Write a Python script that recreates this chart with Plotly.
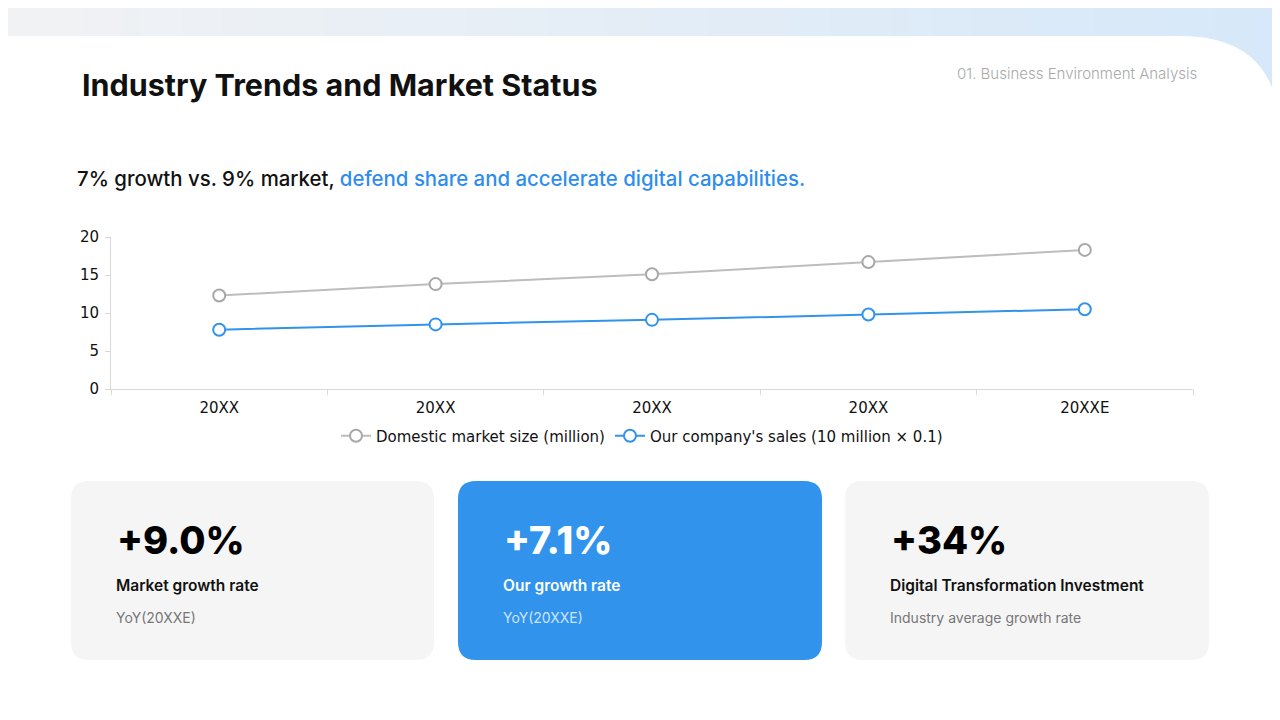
import plotly.graph_objects as go

W, H = 1280, 720
# the page body has an 8px default margin; place everything in screen pixels
OX, OY = 8, 8

years = ["20XX", "20XX ", "20XX  ", "20XX   ", "20XXE"]
year_labels = ["20XX", "20XX", "20XX", "20XX", "20XXE"]
market_size = [12.3, 13.8, 15.1, 16.7, 18.3]
our_sales = [7.8, 8.5, 9.1, 9.8, 10.5]

card_values = ["+9.0%", "+7.1%", "+34%"]
card_labels = ["Market growth rate", "Our growth rate", "Digital Transformation Investment"]
card_notes = ["YoY(20XXE)", "YoY(20XXE)", "Industry average growth rate"]

GRAY_LINE = "#bdbdbd"
GRAY_MARK = "#a8a8a8"
BLUE = "#3193ec"


def px(x):
    return (x - OX) / W


def py(y):
    return 1 - (y - OY) / H


fig = go.Figure()

fig.add_trace(go.Scatter(
    x=years, y=market_size, mode="lines+markers",
    name="Domestic market size (million)",
    line=dict(color=GRAY_LINE, width=2),
    marker=dict(symbol="circle", size=12, color="white", line=dict(color=GRAY_MARK, width=2)),
))
fig.add_trace(go.Scatter(
    x=years, y=our_sales, mode="lines+markers",
    name="Our company's sales (10 million × 0.1)",
    line=dict(color=BLUE, width=2),
    marker=dict(symbol="circle", size=12, color="white", line=dict(color=BLUE, width=2)),
))

shapes = []
# top gradient band (strips)
n = 64
c0, c1 = (241, 242, 244), (214, 232, 249)
for i in range(n):
    t = i / (n - 1)
    col = "rgb(%d,%d,%d)" % tuple(round(a + (b - a) * t) for a, b in zip(c0, c1))
    shapes.append(dict(type="rect", xref="paper", yref="paper",
                       x0=px(i * (W + 16) / n), x1=px((i + 1) * (W + 16) / n + 1), y0=py(160), y1=py(0),
                       fillcolor=col, line=dict(width=0), layer="below"))

# white panel with rounded top-right corner
r = 100
path = (f"M {px(0)},{py(36)} L {px(W - r)},{py(36)} "
        f"Q {px(W)},{py(36)} {px(W)},{py(36 + r)} "
        f"L {px(W)},{py(H + 20)} L {px(0)},{py(H + 20)} Z")
shapes.append(dict(type="path", xref="paper", yref="paper", path=path,
                   fillcolor="white", line=dict(width=0), layer="below"))


def rounded_rect(x0, y0, x1, y1, rad):
    return (f"M {px(x0 + rad)},{py(y0)} L {px(x1 - rad)},{py(y0)} "
            f"Q {px(x1)},{py(y0)} {px(x1)},{py(y0 + rad)} "
            f"L {px(x1)},{py(y1 - rad)} Q {px(x1)},{py(y1)} {px(x1 - rad)},{py(y1)} "
            f"L {px(x0 + rad)},{py(y1)} Q {px(x0)},{py(y1)} {px(x0)},{py(y1 - rad)} "
            f"L {px(x0)},{py(y0 + rad)} Q {px(x0)},{py(y0)} {px(x0 + rad)},{py(y0)} Z")


card_x = [(71, 434), (458, 822), (845, 1209)]
card_fill = ["#f5f5f5", BLUE, "#f5f5f5"]
for (x0, x1), col in zip(card_x, card_fill):
    shapes.append(dict(type="path", xref="paper", yref="paper",
                       path=rounded_rect(x0, 481, x1, 660, 18),
                       fillcolor=col, line=dict(width=0), layer="below"))

ann = []
ann.append(dict(x=px(80), y=py(85), text="Industry Trends and Market Status",
                font=dict(family="Inter", size=30.5, color="#111111", weight=700)))
ann.append(dict(x=px(1199), y=py(73), xanchor="right", text="01. Business Environment Analysis",
                font=dict(family="Inter", size=15, color="#a9a9a9", weight=300)))
ann.append(dict(x=px(75), y=py(178),
                text="7% growth vs. 9% market, <span style='color:#2f8ded'>defend share and accelerate digital capabilities.</span>",
                font=dict(family="Inter", size=20.4, color="#111111", weight=500)))

for i, (x0, x1) in enumerate(card_x):
    blue = card_fill[i] == BLUE
    ann.append(dict(x=px(x0 + 44), y=py(540), text=card_values[i],
                    font=dict(family="Inter", size=38, color="white" if blue else "#000000", weight=800)))
    ann.append(dict(x=px(x0 + 43), y=py(585), text=card_labels[i],
                    font=dict(family="Inter", size=15.5, color="white" if blue else "#111111", weight=600)))
    ann.append(dict(x=px(x0 + 43), y=py(617), text=card_notes[i],
                    font=dict(family="Inter", size=14, color="#cfe4fb" if blue else "#777777", weight=400)))

for a in ann:
    a.setdefault("xanchor", "left")
    a.update(xref="paper", yref="paper", yanchor="middle", showarrow=False)

tick_font = dict(family="DejaVu Sans", size=15, color="#111111")

fig.update_layout(
    width=W, height=H,
    margin=dict(l=0, r=0, t=0, b=0, autoexpand=False),
    paper_bgcolor="white", plot_bgcolor="rgba(0,0,0,0)",
    shapes=shapes, annotations=ann,
    showlegend=True,
    legend=dict(orientation="h", x=px(642), xanchor="center", y=py(436), yanchor="middle",
                font=tick_font, bgcolor="rgba(0,0,0,0)", itemwidth=30, tracegroupgap=0),
    xaxis=dict(domain=[px(111), px(1193)], type="category", automargin=False,
               range=[-0.5, 4.5], tickvals=years, ticktext=year_labels,
               showline=True, linecolor="#d9d9d9", linewidth=1,
               ticks="outside", tickson="boundaries", ticklen=5, tickcolor="#d9d9d9",
               ticklabelstandoff=5,
               showgrid=False, zeroline=False, tickfont=tick_font),
    yaxis=dict(domain=[py(389), py(237)], range=[0, 20], dtick=5, automargin=False,
               showline=True, linecolor="#d9d9d9", linewidth=1,
               ticks="outside", ticklen=5, tickcolor="#d9d9d9",
               ticklabelstandoff=3,
               showgrid=False, zeroline=False, tickfont=tick_font),
)

fig.write_html("out.html")
